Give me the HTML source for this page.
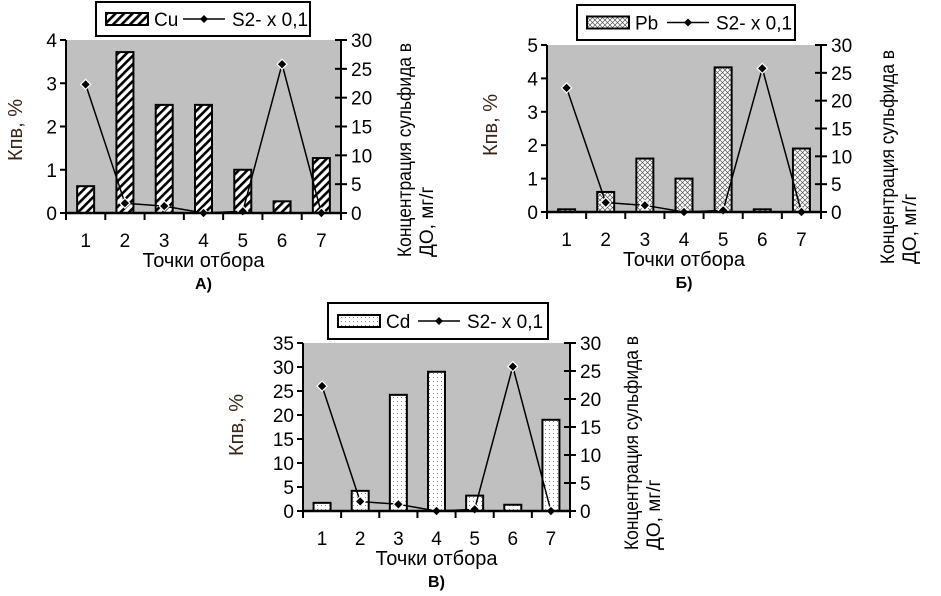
<!DOCTYPE html>
<html><head><meta charset="utf-8"><style>
html,body{margin:0;padding:0;background:#fff;}
svg{display:block;font-family:"Liberation Sans",Arial,sans-serif;}
</style></head><body>
<svg id="s" width="941" height="596" viewBox="0 0 941 596" xmlns="http://www.w3.org/2000/svg">
<defs>
<pattern id="hatch" width="6" height="6" patternUnits="userSpaceOnUse" patternTransform="rotate(45)">
<rect width="6" height="6" fill="#fff"/><rect x="0" y="0" width="2.6" height="6" fill="#000"/></pattern>
<pattern id="cross" width="5" height="5" patternUnits="userSpaceOnUse">
<rect width="5" height="5" fill="#fff"/><path d="M0,0L5,5M5,0L0,5" stroke="#555" stroke-width="0.7"/></pattern>
<pattern id="dots" width="4" height="4" patternUnits="userSpaceOnUse">
<rect width="4" height="4" fill="#fff"/><rect x="1" y="1" width="1" height="1" fill="#888"/></pattern>
</defs>
</svg>
<script>
var s=document.getElementById('s'),NS='http://www.w3.org/2000/svg';
function el(t,a,txt){var e=document.createElementNS(NS,t);for(var k in a)e.setAttribute(k,a[k]);if(txt!=null)e.textContent=txt;s.appendChild(e);return e;}
var line=[22.3,1.7,1.2,0,0.3,25.8,0];
function chart(o){
 var x0=o.x0,x1=o.x1,y0=o.y0,y1=o.y1,H=y1-y0,W=x1-x0,cw=W/7;
 el('rect',{x:x0,y:y0,width:W,height:H,fill:'#c0c0c0'});
 for(var i=0;i<7;i++){var cx=x0+cw*(i+0.5),h=o.bars[i]/o.lmax*H;
  el('rect',{x:cx-8.5,y:y1-h,width:17,height:h,fill:'url(#'+o.pat+')',stroke:'#000','stroke-width':2});}
 var pts=line.map(function(v,i){return [x0+cw*(i+0.5),y1-v/30*H];});
 el('polyline',{points:pts.map(function(p){return p.join(',')}).join(' '),fill:'none',stroke:'#000','stroke-width':1.5});
 pts.forEach(function(p){el('path',{d:'M'+p[0]+','+(p[1]-5)+'l5,5l-5,5l-5,-5z',fill:'#000',stroke:'#fff','stroke-width':1.2});});
 el('line',{x1:x0,y1:y0,x2:x0,y2:y1,stroke:'#000','stroke-width':2});
 el('line',{x1:x1,y1:y0,x2:x1,y2:y1,stroke:'#000','stroke-width':2});
 el('line',{x1:x0-1,y1:y1,x2:x1+1,y2:y1,stroke:'#000','stroke-width':2.5});
 for(var i=0;i<=7;i++){var x=x0+cw*i;el('line',{x1:x,y1:y1,x2:x,y2:y1+7,stroke:'#000','stroke-width':2});}
 for(var i=0;i<7;i++)el('text',{x:x0+cw*(i+0.5),y:y1+34,'font-size':19,'text-anchor':'middle'},String(i+1));
 var n=o.lmax/o.lstep;
 for(var i=0;i<=n;i++){var y=y1-i/n*H;el('line',{x1:x0-6,y1:y,x2:x0,y2:y,stroke:'#000','stroke-width':2});
  el('text',{x:x0-9,y:y+7,'font-size':19,'text-anchor':'end'},String(i*o.lstep));}
 for(var i=0;i<=6;i++){var y=y1-i/6*H;el('line',{x1:x1-6,y1:y,x2:x1+6,y2:y,stroke:'#000','stroke-width':2});
  el('text',{x:x1+10,y:y+7,'font-size':19},String(i*5));}
 el('text',{x:(x0+x1)/2,y:y1+54,'font-size':20,'text-anchor':'middle'},'Точки отбора');
 el('text',{x:(x0+x1)/2,y:y1+76,'font-size':16,'font-weight':'bold','text-anchor':'middle'},o.lab);
 el('text',{transform:'translate('+o.ly[0]+','+o.ly[1]+') rotate(-90)','font-size':20,'text-anchor':'middle',fill:'#3a2418'},'Кпв, %');
 el('text',{transform:'translate('+o.rx+','+o.ry+') rotate(-90)','font-size':19,textLength:214,lengthAdjust:'spacingAndGlyphs'},'Концентрация сульфида в');
 el('text',{transform:'translate('+(o.rx+22)+','+o.ry+') rotate(-90)','font-size':19},'ДО, мг/г');
 var L=o.leg;
 el('rect',{x:L[0],y:L[1],width:L[2],height:L[3],fill:'#fff',stroke:'#000','stroke-width':2});
 var my=L[1]+L[3]/2;
 el('rect',{x:L[0]+10,y:my-6,width:42,height:12,fill:'url(#'+o.pat+')',stroke:'#000','stroke-width':2});
 el('text',{x:L[0]+58,y:my+7,'font-size':19},o.el);
 var lx=L[0]+(o.el=='Cu'?87:90);
 el('line',{x1:lx,y1:my,x2:lx+42,y2:my,stroke:'#000','stroke-width':1.5});
 el('path',{d:'M'+(lx+21)+','+(my-4)+'l4,4l-4,4l-4,-4z',fill:'#000'});
 el('text',{x:lx+49,y:my+7,'font-size':19},'S2- x 0,1');
}
chart({x0:66,x1:341,y0:40,y1:213,lmax:4,lstep:1,bars:[0.62,3.72,2.5,2.5,1.0,0.27,1.27],pat:'hatch',el:'Cu',lab:'А)',ly:[22,130],rx:411,ry:257,leg:[96,2,214,34]});
chart({x0:547,x1:821,y0:45,y1:212,lmax:5,lstep:1,bars:[0.08,0.6,1.6,1.0,4.33,0.08,1.9],pat:'cross',el:'Pb',lab:'Б)',ly:[497,125],rx:894,ry:264,leg:[577,5,218,35]});
chart({x0:303,x1:570,y0:343,y1:511,lmax:35,lstep:5,bars:[1.7,4.2,24.2,29,3.2,1.3,19],pat:'dots',el:'Cd',lab:'В)',ly:[243,425],rx:638,ry:550,leg:[328,303,220,36]});
</script>
</body></html>
